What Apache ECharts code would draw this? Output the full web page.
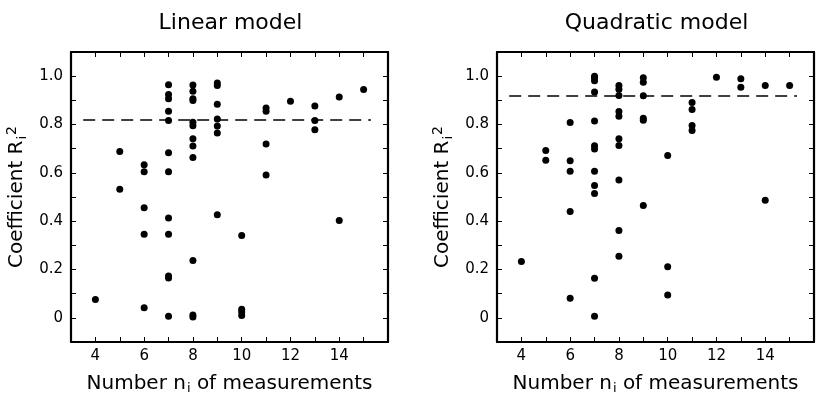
<!DOCTYPE html>
<html>
<head>
<meta charset="utf-8">
<script src="https://cdn.jsdelivr.net/npm/echarts@6/dist/echarts.min.js"></script>
<style>html,body{margin:0;padding:0;background:#fff;}#c{width:819px;height:400px;}</style>
</head>
<body>
<div id="c"></div>
<script>
// ---- Data ----
const panelTitles = ['Linear model', 'Quadratic model'];
const xTickLabels = [4, 6, 8, 10, 12, 14];
const yTickLabels = [0, 0.2, 0.4, 0.6, 0.8, 1.0];

const linearN  = [4, 5,5, 6,6,6,6,6,
  7,7,7,7,7,7,7,7,7,7,7,7,
  8,8,8,8,8,8,8,8,8,8,8,8,
  9,9,9,9,9,9,9,
  10,10,10,10, 11,11,11,11, 12, 13,13,13, 14,14, 15];
const linearR2 = [0.076, 0.688,0.532, 0.633,0.604,0.456,0.346,0.042,
  0.965,0.924,0.907,0.855,0.817,0.683,0.604,0.413,0.346,0.173,0.165,0.007,
  0.963,0.938,0.907,0.899,0.809,0.795,0.741,0.711,0.663,0.237,0.012,0.003,
  0.972,0.961,0.884,0.823,0.794,0.765,0.427,
  0.341,0.036,0.024,0.010, 0.868,0.855,0.719,0.591, 0.896, 0.877,0.817,0.778, 0.914,0.403, 0.945];
const linearThreshold = 0.82;

const quadN  = [4, 5,5, 6,6,6,6,6,
  7,7,7,7,7,7,7,7,7,7,7,7,
  8,8,8,8,8,8,8,8,8,8,
  9,9,9,9,9,9,
  10,10,10, 11,11,11,11, 12, 13,13, 14,14, 15];
const quadR2 = [0.233, 0.692,0.652, 0.808,0.650,0.607,0.440,0.081,
  1.000,0.993,0.981,0.935,0.815,0.712,0.699,0.607,0.548,0.514,0.164,0.007,
  0.961,0.946,0.920,0.854,0.834,0.741,0.713,0.570,0.361,0.255,
  0.993,0.975,0.919,0.826,0.818,0.465,
  0.672,0.211,0.094, 0.891,0.862,0.796,0.775, 0.996, 0.989,0.954, 0.961,0.487, 0.961];
const quadThreshold = 0.918;

const lineStart = 3.5, lineEnd = 15.3;

// ---- Chart ----
const FONT = 'DejaVu Sans';
const zip = (a, b) => a.map((v, i) => [v, b[i]]);
const grids = [
  {left: 71, top: 52, width: 317, height: 292},
  {left: 497, top: 52, width: 317, height: 292}
];
const xLabelFmt = v => xTickLabels.indexOf(Math.round(v)) >= 0 && Math.abs(v - Math.round(v)) < 1e-6 ? String(Math.round(v)) : '';
const yLabelFmt = v => {
  const r = Math.round(v * 10) / 10;
  const hit = yTickLabels.find(t => Math.abs(t - r) < 1e-6);
  if (hit === undefined) return '';
  return hit === 0 ? '0' : hit.toFixed(1);
};
const axisLine = {show: true, onZero: false, lineStyle: {color: '#000', width: 2.2}};
const tick = {show: true, inside: true, length: 5, lineStyle: {color: '#000', width: 1}};

const xAxes = [], yAxes = [], series = [], titles = [];
[[linearN, linearR2, linearThreshold], [quadN, quadR2, quadThreshold]].forEach((p, gi) => {
  const g = grids[gi];
  titles.push({
    text: panelTitles[gi], left: g.left + g.width / 2 - 4, top: 7, textAlign: 'center',
    textStyle: {fontFamily: FONT, fontSize: 22, fontWeight: 'normal', color: '#000'}
  });
  xAxes.push({
    gridIndex: gi, type: 'value', min: 3, max: 16, interval: 1, position: 'bottom',
    axisLine, axisTick: tick, splitLine: {show: false},
    axisLabel: {formatter: xLabelFmt, color: '#000', fontFamily: FONT, fontSize: 15, margin: 7},
    name: '{a|Number n}{s|i}{a| of measurements}', nameLocation: 'middle', nameGap: 30,
    nameTextStyle: {rich: {
      a: {fontFamily: FONT, fontSize: 20, color: '#000'},
      s: {fontFamily: FONT, fontSize: 13, color: '#000', verticalAlign: 'bottom', padding: [10, 0, 0, 1]}
    }}
  });
  xAxes.push({
    gridIndex: gi, type: 'value', min: 3, max: 16, interval: 1, position: 'top',
    axisLine, axisTick: tick, axisLabel: {show: false}, splitLine: {show: false}
  });
  yAxes.push({
    gridIndex: gi, type: 'value', min: -0.1, max: 1.1, interval: 0.1, position: 'left',
    axisLine, axisTick: tick, splitLine: {show: false},
    axisLabel: {formatter: yLabelFmt, color: '#000', fontFamily: FONT, fontSize: 15, margin: 8},
    name: '{a|Coefficient R}{s|i}{p|2}', nameLocation: 'middle', nameGap: 42, nameRotate: 90,
    nameTextStyle: {rich: {
      a: {fontFamily: FONT, fontSize: 20, color: '#000'},
      s: {fontFamily: FONT, fontSize: 13, color: '#000', verticalAlign: 'bottom', padding: [10, 0, 0, 1]},
      p: {fontFamily: FONT, fontSize: 14, color: '#000', verticalAlign: 'top', padding: [0, 0, 10, 1]}
    }}
  });
  yAxes.push({
    gridIndex: gi, type: 'value', min: -0.1, max: 1.1, interval: 0.1, position: 'right',
    axisLine, axisTick: tick, axisLabel: {show: false}, splitLine: {show: false}
  });
  series.push({
    type: 'scatter', xAxisIndex: gi * 2, yAxisIndex: gi * 2,
    data: zip(p[0], p[1]), symbol: 'circle', symbolSize: 7,
    itemStyle: {color: '#000', opacity: 1}, silent: true,
    markLine: {
      silent: true, symbol: 'none', animation: false, label: {show: false},
      lineStyle: {color: '#000', width: 1.5, type: [12, 7], opacity: 1},
      data: [[{coord: [lineStart, p[2]]}, {coord: [lineEnd, p[2]]}]]
    }
  });
});

const chart = echarts.init(document.getElementById('c'), null, {renderer: 'canvas'});
chart.setOption({
  animation: false,
  backgroundColor: '#fff',
  title: titles,
  grid: grids,
  xAxis: xAxes,
  yAxis: yAxes,
  series
});
</script>
</body>
</html>
